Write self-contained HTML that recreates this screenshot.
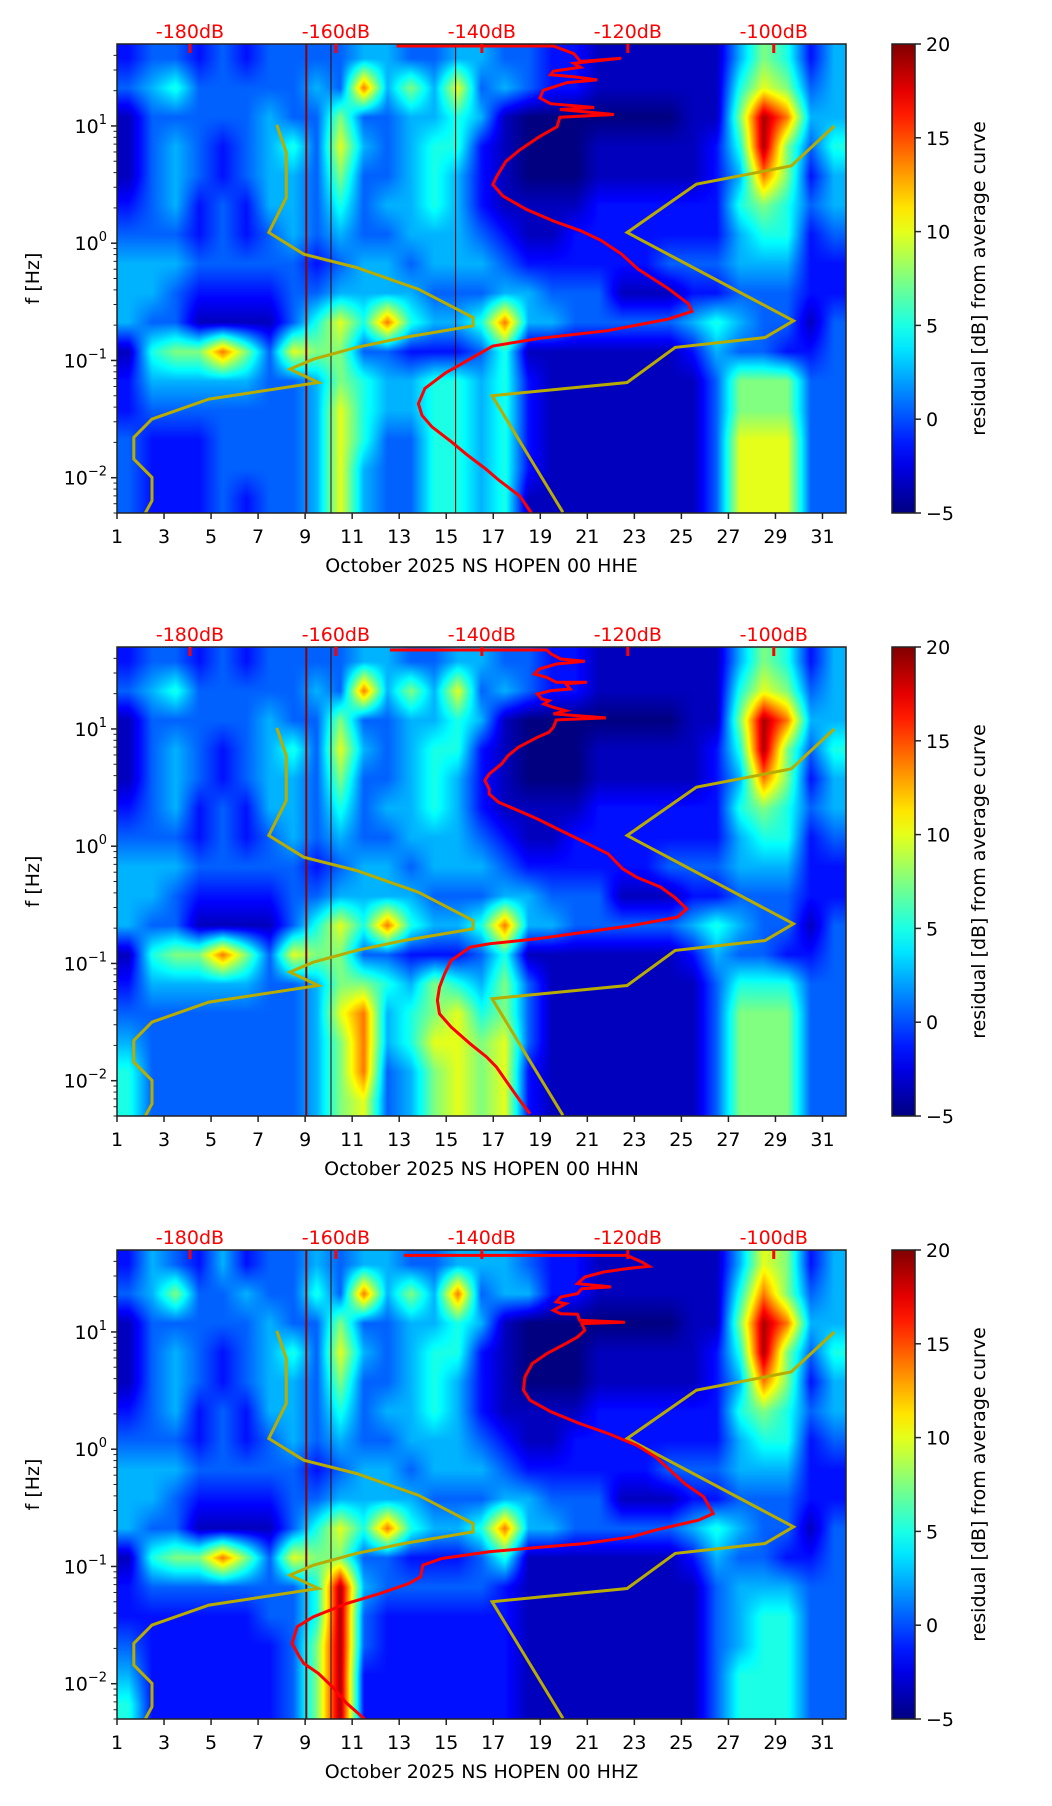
<!DOCTYPE html>
<html><head><meta charset="utf-8">
<style>
html,body{margin:0;padding:0;background:#fff;}
#wrap{position:relative;width:1052px;height:1806px;overflow:hidden;font-family:"DejaVu Sans","Liberation Sans",sans-serif;}
canvas{position:absolute;}
svg{position:absolute;left:0;top:0;}
</style></head>
<body>
<div id="wrap"></div>
<script>
// ---- shared data ----
const dayTicks = [1,3,5,7,9,11,13,15,17,19,21,23,25,27,29,31];
const dbTicks = [-180,-160,-140,-120,-100];
const cbTicks = [20,15,10,5,0,-5];
const levelDb = [-5,-3.5,-1.5,0.5,2.5,5,7.5,10,14,19];
const stationLabels = ["October 2025 NS HOPEN 00 HHE","October 2025 NS HOPEN 00 HHN","October 2025 NS HOPEN 00 HHZ"];

// heatmap grids: rows = 0.25-decade bands from 50 Hz downward, cols = days 1..31, chars index levelDb
const heat1 = [
"2332323333443344332211111146524",
"3453333343846473432211111157634",
"1333334336334454100000001169844",
"1343234537434552100011111259635",
"1343234436334542100011111248624",
"2342324435344542111122222256534",
"3332323434334443211222222245523",
"4443333323443444322222233344422",
"4432222334444333443331112233322",
"4331111357585445844333334543313",
"1566863766332223511111112433223",
"2444443346544554521111111366633",
"2333333347544554521111111366633",
"3222333347533554521111111377733",
"3222333347433554521111111377733",
"3222323347433554511111111377733"];
const heat2 = [
"2332323333443344332211111146524",
"3453333343846473432211111157634",
"1333334336334454100000001169844",
"1343234537434552100011111259635",
"1343234436334542100011111248624",
"2342324435344542111122222256534",
"3332323434334443211222222245523",
"4443333323443444322222233344422",
"4432222334444333443331112233322",
"4331111357585445844333334543313",
"1566863766332223511111112433223",
"2444443346654654631111111355533",
"3333333347845675631111111366633",
"4333333346845776731111111366633",
"5333333346834676721111111366633",
"5333333346734676721111111366633"];
const heat3 = [
"2432423343443344432211111147624",
"3463343353846483442211111158634",
"1333334336334454100000001169844",
"1343234537434552100011111259635",
"1343234436334542100011111248624",
"2342324435344542111122222256534",
"3332323434334443211222222245523",
"4443333323443444322222233344422",
"4432222334444333443331112233322",
"4331111357585445844333334543313",
"1566863766332223511111112433223",
"2333333359433333211111111344433",
"2222223359322222211111111345533",
"3222222369322222211111111345533",
"4222222369222222211111111355533",
"5222222369222222211111111355533"];

// vertical artefact lines (day positions)
const vlines1 = [9.05,10.1,15.4];
const vlines2 = [9.05,10.1];
const vlines3 = [9.05,10.1];

// red average curves: dB values and log10 frequency
const red1Db = [-151.7,-130.2,-127.4,-126.5,-120.9,-127.4,-126.5,-130.2,-130.6,-127.4,-124.2,-128.3,-131.6,-132.05,-130.6,-124.6,-129.3,-121.9,-129.3,-129.7,-132.05,-134.8,-136.7,-138.0,-138.5,-137.1,-133.9,-130.2,-126.5,-123.7,-120.9,-118.6,-114.5,-111.7,-111.2,-114.5,-122.8,-132.05,-138.5,-142.2,-145.0,-147.8,-148.7,-148.2,-146.85,-144.1,-142.2,-139.45,-137.6,-134.8,-133.0];
const red1Log = [1.682,1.682,1.616,1.550,1.577,1.534,1.501,1.468,1.436,1.419,1.393,1.370,1.304,1.239,1.190,1.157,1.140,1.098,1.075,0.993,0.911,0.796,0.698,0.566,0.501,0.402,0.288,0.189,0.107,0.025,-0.090,-0.221,-0.385,-0.516,-0.582,-0.648,-0.746,-0.811,-0.877,-1.008,-1.107,-1.238,-1.369,-1.468,-1.566,-1.697,-1.796,-1.927,-2.025,-2.156,-2.320];
const red2Db = [-152.6,-131.1,-130.5,-129.2,-125.9,-129.8,-132.1,-132.8,-131.1,-129.8,-125.6,-128.5,-127.9,-130.5,-132.4,-131.8,-130.8,-131.5,-130.2,-128.5,-130.2,-123.0,-129.8,-130.2,-130.8,-132.4,-135.0,-136.4,-137.3,-139.0,-139.6,-139.0,-139.0,-137.7,-135.0,-132.4,-129.2,-125.9,-122.7,-120.7,-118.8,-115.5,-113.6,-111.9,-113.2,-119.4,-125.9,-132.4,-139.0,-141.6,-144.2,-145.1,-145.8,-146.1,-145.8,-144.2,-141.6,-139.35,-138.0,-136.4,-134.8,-133.4];
const red2Log = [1.673,1.673,1.639,1.597,1.577,1.554,1.511,1.469,1.440,1.398,1.398,1.384,1.341,1.327,1.298,1.256,1.241,1.213,1.185,1.156,1.128,1.094,1.077,1.014,0.972,0.929,0.844,0.773,0.702,0.616,0.560,0.489,0.446,0.375,0.304,0.233,0.134,0.034,-0.065,-0.193,-0.264,-0.349,-0.435,-0.534,-0.605,-0.676,-0.733,-0.790,-0.832,-0.861,-0.974,-1.088,-1.202,-1.315,-1.429,-1.543,-1.685,-1.798,-1.884,-2.026,-2.168,-2.281];
const red3Db = [-150.7,-120.1,-118.1,-117.1,-120.1,-123.3,-125.9,-126.9,-122.3,-126.3,-126.9,-129.2,-129.8,-128.5,-130.2,-129.2,-126.9,-126.6,-120.4,-126.3,-125.9,-126.9,-128.5,-131.1,-133.1,-134.1,-134.3,-133.4,-130.5,-126.6,-122.7,-118.8,-116.2,-114.2,-112.2,-109.6,-108.3,-110.3,-116.2,-119.4,-125.9,-132.4,-139.0,-145.5,-148.1,-148.4,-150.0,-153.9,-158.5,-163.1,-165.3,-166.0,-165.0,-164.4,-162.4,-160.5,-158.5,-155.9];
const red3Log = [1.653,1.653,1.597,1.560,1.540,1.511,1.469,1.412,1.384,1.369,1.327,1.298,1.256,1.241,1.185,1.156,1.151,1.099,1.082,1.071,1.014,0.957,0.901,0.815,0.730,0.616,0.503,0.418,0.318,0.219,0.134,0.034,-0.065,-0.179,-0.293,-0.406,-0.548,-0.605,-0.690,-0.747,-0.804,-0.838,-0.875,-0.932,-0.989,-1.088,-1.145,-1.230,-1.315,-1.429,-1.514,-1.656,-1.770,-1.827,-1.912,-2.026,-2.168,-2.310];

// yellow noise-model curves (low / high)
const nlnmDb = [-168.1,-166.8,-166.8,-169.2,-164.4,-157.2,-148.7,-141.2,-141.2,-150.7,-157.2,-163.1,-166.3,-162.4,-177.4,-185.2,-187.7,-187.7,-185.2,-185.2,-186.2];
const nlnmLog = [1.009,0.773,0.389,0.091,-0.094,-0.207,-0.392,-0.634,-0.705,-0.804,-0.889,-0.989,-1.074,-1.188,-1.330,-1.500,-1.656,-1.841,-1.997,-2.196,-2.310];
const nhnmDb = [-91.7,-97.6,-110.6,-120.1,-97.3,-101.2,-113.5,-120.1,-138.6,-128.9];
const nhnmLog = [1.0,0.659,0.503,0.091,-0.662,-0.804,-0.889,-1.188,-1.301,-2.295];

// ---- layout ----
const W = 1052, PL = 117, PW = 729, PH = 469;
const tops = [44, 647, 1250];
const CBX = 892, CBW = 23;
const LOGTOP = 1.69897, LOGBOT = -2.30103;
const DAYMIN = 1, DAYMAX = 32, DBMIN = -190, DBMAX = -90.1;

function jet(t){
  t = Math.max(0, Math.min(1, t));
  const c = v => Math.round(255*Math.max(0, Math.min(1, v)));
  return [c(1.5-Math.abs(4*t-3)), c(1.5-Math.abs(4*t-2)), c(1.5-Math.abs(4*t-1))];
}
const SVGNS = "http://www.w3.org/2000/svg";
function el(tag, attrs, parent){
  const e = document.createElementNS(SVGNS, tag);
  for (const k in attrs) e.setAttribute(k, attrs[k]);
  if (parent) parent.appendChild(e);
  return e;
}
const wrap = document.getElementById('wrap');
const svg = el('svg', {width:W, height:1806, viewBox:`0 0 ${W} 1806`});



const panels = [
  {heat:heat1, vl:vlines1, rd:red1Db, rl:red1Log, name:'hhe'},
  {heat:heat2, vl:vlines2, rd:red2Db, rl:red2Log, name:'hhn'},
  {heat:heat3, vl:vlines3, rd:red3Db, rl:red3Log, name:'hhz'}
];

panels.forEach((p, i) => {
  const top = tops[i];
  const xDay = d => PL + (d-DAYMIN)/(DAYMAX-DAYMIN)*PW;
  const xDb = v => PL + (v-DBMIN)/(DBMAX-DBMIN)*PW;
  const yLog = l => top + (LOGTOP-l)/(LOGTOP-LOGBOT)*PH;

  const cv = document.createElement('canvas');
  cv.width = PW; cv.height = PH;
  cv.style.left = PL+'px'; cv.style.top = top+'px';
  
  
  wrap.appendChild(cv);
  const ctx = cv.getContext('2d');
  const img = ctx.createImageData(PW, PH);
  const rows = p.heat.length, cols = p.heat[0].length;
  const val = (r,c) => levelDb[+p.heat[Math.max(0,Math.min(rows-1,r))][Math.max(0,Math.min(cols-1,c))]];
  for (let y=0; y<PH; y++){
    const fr = (y+0.5)/PH*rows - 0.5;
    const r0 = Math.floor(fr), ry = fr - r0;
    for (let x=0; x<PW; x++){
      const fc = (x+0.5)/PW*(DAYMAX-DAYMIN) - 0.5;
      const c0 = Math.floor(fc), cx = fc - c0;
      const v = (val(r0,c0)*(1-cx)+val(r0,c0+1)*cx)*(1-ry) + (val(r0+1,c0)*(1-cx)+val(r0+1,c0+1)*cx)*ry;
      const col = jet((v+5)/25);
      const k = (y*PW+x)*4;
      img.data[k]=col[0]; img.data[k+1]=col[1]; img.data[k+2]=col[2]; img.data[k+3]=255;
    }
  }
  ctx.putImageData(img,0,0);

  const g = el('g', {}, svg);
  
  

  p.vl.forEach((d, j) => {
    const ln = el('line', {x1:xDay(d), x2:xDay(d), y1:top, y2:top+PH, stroke:j===0?'#8b0000':'#400000', 'stroke-width':j===0?2:1}, g);
    
    
  });

  const clipId = 'clip'+i;
  const cp = el('clipPath', {id:clipId}, g);
  el('rect', {x:PL, y:top, width:PW, height:PH}, cp);
  const mk = (dbs, logs) => dbs.map((v,k) => (k?'L':'M')+xDb(v).toFixed(1)+','+yLog(logs[k]).toFixed(1)).join(' ');
  const nl = el('path', {d:mk(nlnmDb,nlnmLog), fill:'none', stroke:'#b8ac00', 'stroke-width':3, 'clip-path':`url(#${clipId})`}, g);
  
  
  const nh = el('path', {d:mk(nhnmDb,nhnmLog), fill:'none', stroke:'#b8ac00', 'stroke-width':3, 'clip-path':`url(#${clipId})`}, g);
  
  
  const rc = el('path', {d:mk(p.rd,p.rl), fill:'none', stroke:'#ff0000', 'stroke-width':3, 'clip-path':`url(#${clipId})`}, g);
  
  

  const fr = el('rect', {x:PL, y:top, width:PW, height:PH, fill:'none', stroke:'#222', 'stroke-width':1.5}, g);
  
  

  dbTicks.forEach(v => {
    const x = xDb(v);
    el('line', {x1:x, x2:x, y1:top, y2:top+9, stroke:'#ff0000', 'stroke-width':3}, g);
    const t = el('text', {x:x, y:top-6, 'text-anchor':'middle', 'font-size':19, fill:'#ff0000'}, g);
    t.textContent = v+'dB';
    
    
  });

  dayTicks.forEach(d => {
    const x = xDay(d);
    el('line', {x1:x, x2:x, y1:top+PH, y2:top+PH+6, stroke:'#222', 'stroke-width':1.5}, g);
    const t = el('text', {x:x, y:top+PH+30, 'text-anchor':'middle', 'font-size':19, fill:'#000'}, g);
    t.textContent = d;
    
    
  });
  const xl = el('text', {x:PL+PW/2, y:top+PH+59, 'text-anchor':'middle', 'font-size':19, fill:'#000'}, g);
  xl.textContent = stationLabels[i];
  
  

  for (let e=-3; e<=1; e++){
    for (let m=1; m<=9; m++){
      const l = e + Math.log10(m);
      if (l > LOGTOP || l < LOGBOT) continue;
      const y = yLog(l);
      el('line', {x1:PL-(m===1?6:3.5), x2:PL, y1:y, y2:y, stroke:'#222', 'stroke-width':m===1?1.5:1}, g);
      if (m===1){
        const t = el('text', {x:PL-10, y:y+7, 'text-anchor':'end', 'font-size':19, fill:'#000'}, g);
        
        
        const a = el('tspan', {}, t); a.textContent = '10';
        const b = el('tspan', {dy:-9, 'font-size':13}, t); b.textContent = (e<0?'\u2212':'')+Math.abs(e);
      }
    }
  }
  const yl = el('text', {x:0, y:0, 'text-anchor':'middle', 'font-size':19, fill:'#000', transform:`translate(39,${top+PH/2}) rotate(-90)`}, g);
  yl.textContent = 'f [Hz]';
  
  

  const gid = 'cbg'+i;
  const defs = el('defs', {}, g);
  const lg = el('linearGradient', {id:gid, x1:0, y1:1, x2:0, y2:0}, defs);
  for (let s=0; s<=20; s++){
    const c = jet(s/20);
    el('stop', {offset:(s/20), 'stop-color':`rgb(${c[0]},${c[1]},${c[2]})`}, lg);
  }
  const cb = el('rect', {x:CBX, y:top, width:CBW, height:PH, fill:`url(#${gid})`, stroke:'#222', 'stroke-width':1.5}, g);
  
  
  cbTicks.forEach(v => {
    const y = top + (20-v)/25*PH;
    el('line', {x1:CBX+CBW, x2:CBX+CBW+6, y1:y, y2:y, stroke:'#222', 'stroke-width':1.5}, g);
    const t = el('text', {x:CBX+CBW+11, y:y+7, 'font-size':19, fill:'#000'}, g);
    t.textContent = v<0 ? '\u2212'+Math.abs(v) : String(v);
    
    
  });
  const cl = el('text', {x:0, y:0, 'text-anchor':'middle', 'font-size':19, fill:'#000', transform:`translate(985,${top+PH/2}) rotate(-90)`}, g);
  cl.textContent = 'residual [dB] from average curve';
  
  
});
wrap.appendChild(svg);
</script>
</body></html>
